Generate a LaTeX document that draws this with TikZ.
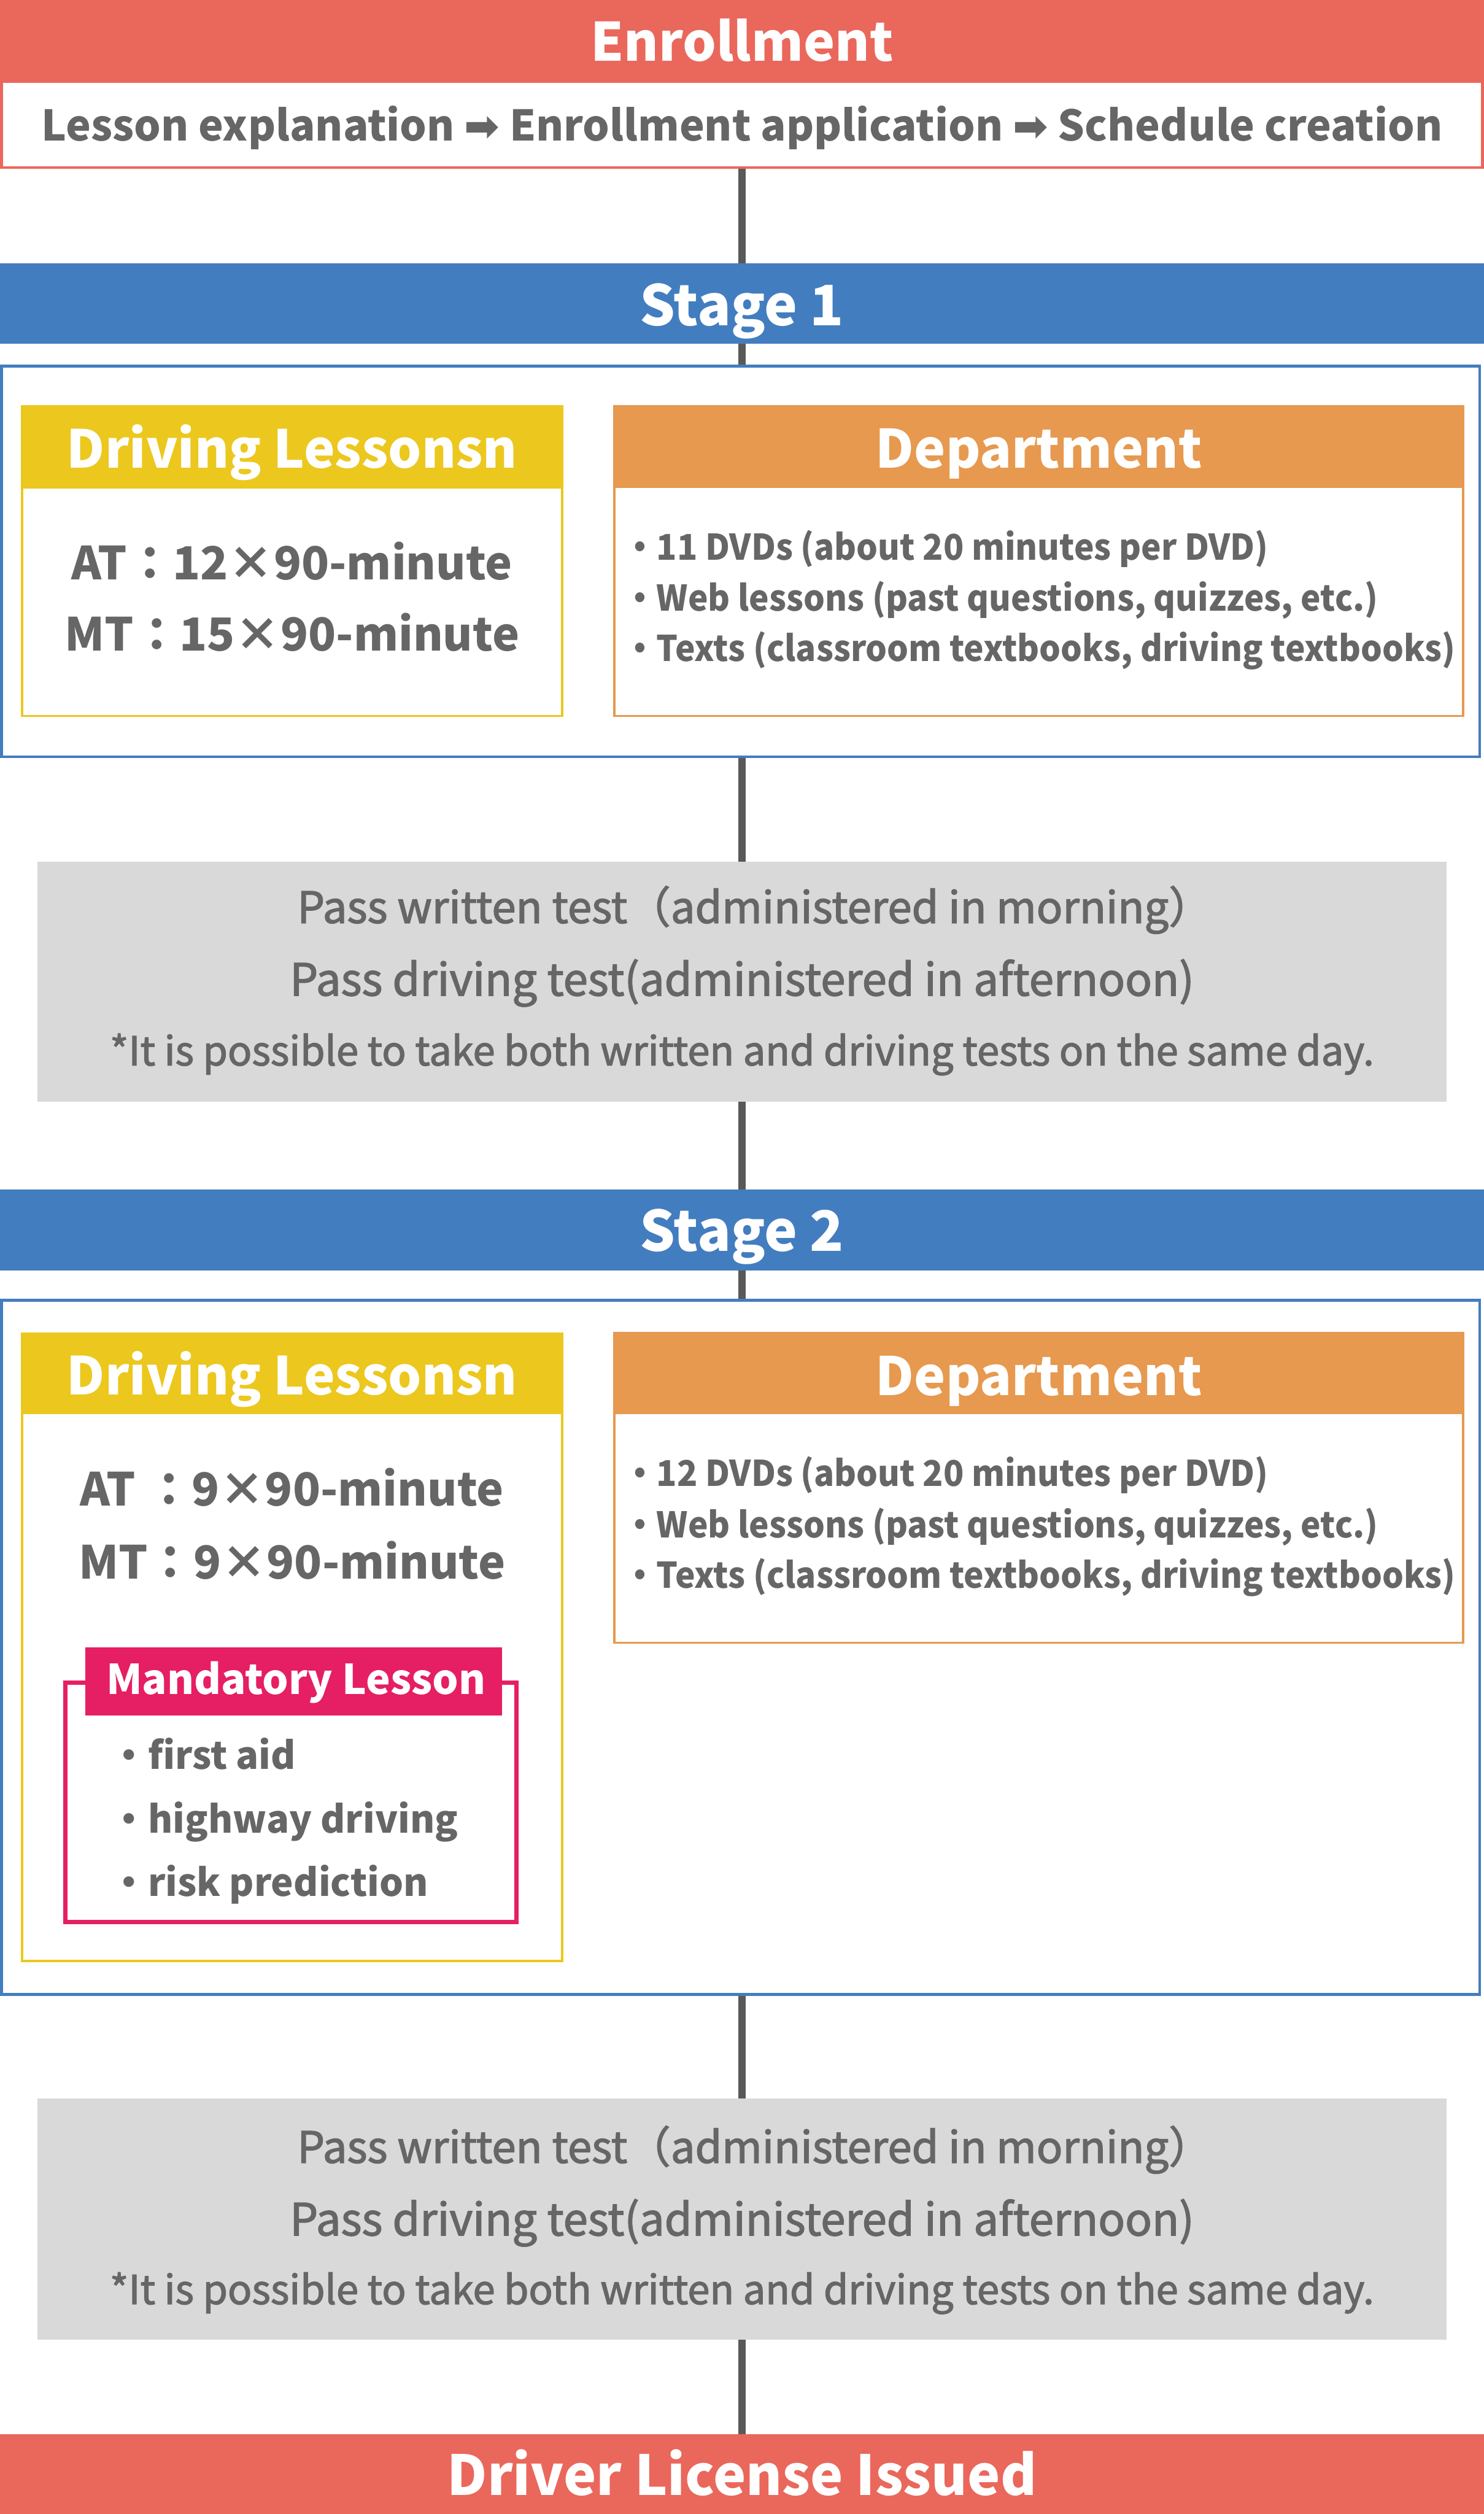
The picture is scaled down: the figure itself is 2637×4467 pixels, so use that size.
\documentclass[tikz,border=0pt]{standalone}
\usepackage{graphicx}
\usepackage{fontspec}
\setmainfont{Noto Sans CJK JP}
\newfontfamily\jpmed{Noto Sans CJK JP}[FakeBold=2]
\newfontfamily\dejavu{DejaVu Sans}
\newcommand\setfs[1]{\fontsize{#1}{#1}\selectfont}
\newcommand\narrowtxt[1]{\scalebox{0.95}[1]{#1}}
\definecolor{salmon}{HTML}{EA675B}
\definecolor{bluebar}{HTML}{427DBF}
\definecolor{yel}{HTML}{ECC71E}
\definecolor{ora}{HTML}{E6994F}
\definecolor{pink}{HTML}{E61E63}
\definecolor{grayfill}{HTML}{D9D9D9}
\definecolor{txtgray}{HTML}{666666}
\definecolor{linegray}{HTML}{595959}
\pgfdeclarelayer{bg}
\pgfsetlayers{bg,main}
\tikzset{
  box/.style={rectangle, inner sep=0, outer sep=0, anchor=north west},
  txt/.style={inner sep=0, outer sep=0, anchor=base, text=txtgray},
  wtxt/.style={inner sep=0, outer sep=0, anchor=base, text=white, font=\bfseries},
  conn/.style={draw=linegray, line width=13}
}
\begin{document}
\begin{tikzpicture}[x=1pt,y=-1pt]
\useasboundingbox (0,0) rectangle (2637,4467);
% Enrollment
\node[box, fill=salmon, minimum width=2637, minimum height=142] (enh) at (0,0) {};
\node[box, draw=salmon, line width=5, fill=white, minimum width=2632, minimum height=153] (enb) at (2.5,144.5) {};
\node[wtxt] (enht) at (1318.5,108) {\setfs{94}Enrollment};
\node[txt] (enbt) at (1318.5,250) {\setfs{75}\bfseries Lesson explanation {\dejavu ➡} Enrollment application {\dejavu ➡} Schedule creation};
% Stage 1
\node[box, fill=bluebar, minimum width=2637, minimum height=143] (st1) at (0,468) {};
\node[wtxt] (st1t) at (1318.5,578) {\setfs{99}Stage 1};
\node[box, draw=bluebar, line width=5, fill=white, minimum width=2627, minimum height=694] (box1) at (2.5,650.5) {};
\node[box, draw=yel, line width=4, minimum width=960, minimum height=550] (dl1) at (39,722) {};
\node[box, fill=yel, minimum width=964, minimum height=148] (dl1h) at (37,720) {};
\node[wtxt] (dl1t) at (519,832) {\setfs{93}Driving Lessonsn};
\node[txt] (at1) at (519,1030) {\setfs{81}\bfseries AT：12×90-minute};
\node[txt] (mt1) at (519,1157) {\setfs{81}\bfseries MT：15×90-minute};
\node[box, draw=ora, line width=4, minimum width=1508, minimum height=550] (dp1) at (1092,722) {};
\node[box, fill=ora, minimum width=1512, minimum height=147] (dp1h) at (1090,720) {};
\node[wtxt] (dp1t) at (1846,832) {\setfs{94}Department};
\node[txt, anchor=base west] (dp1a) at (1107,995) {\setfs{63}\bfseries\narrowtxt{・11 DVDs (about 20 minutes per DVD)}};
\node[txt, anchor=base west] (dp1b) at (1107,1086) {\setfs{63}\bfseries\narrowtxt{・Web lessons (past questions, quizzes, etc.)}};
\node[txt, anchor=base west] (dp1c) at (1107,1175) {\setfs{63}\bfseries\narrowtxt{・Texts (classroom textbooks, driving textbooks)}};
% Tests 1
\node[box, fill=grayfill, minimum width=2503, minimum height=427] (gray1) at (67,1531) {};
\node[txt] (g1a) at (1341,1640) {\jpmed\setfs{77}Pass written test（administered in morning）};
\node[txt] (g1b) at (1318.5,1769) {\jpmed\setfs{79}Pass driving test(administered in afternoon)};
\node[txt] (g1c) at (1318.5,1893) {\jpmed\setfs{71}*It is possible to take both written and driving tests on the same day.};
% Stage 2
\node[box, fill=bluebar, minimum width=2637, minimum height=143] (st2) at (0,2114) {};
\node[wtxt] (st2t) at (1318.5,2223) {\setfs{99}Stage 2};
\node[box, draw=bluebar, line width=5, fill=white, minimum width=2627, minimum height=1233] (box2) at (2.5,2310.5) {};
\node[box, draw=yel, line width=4, minimum width=960, minimum height=1114] (dl2) at (39,2370) {};
\node[box, fill=yel, minimum width=964, minimum height=145] (dl2h) at (37,2368) {};
\node[wtxt] (dl2t) at (519,2478) {\setfs{93}Driving Lessonsn};
\node[txt] (at2) at (519,2676) {\setfs{81}\bfseries AT ：9×90-minute};
\node[txt] (mt2) at (519,2805) {\setfs{81}\bfseries MT：9×90-minute};
\node[box, draw=pink, line width=8, minimum width=802, minimum height=425] (mand) at (116,2990) {};
\node[box, fill=pink, minimum width=740, minimum height=121] (mandh) at (152,2927) {};
\node[wtxt] (mandt) at (526,3011) {\setfs{73}Mandatory Lesson};
\node[txt, anchor=base west] (m1) at (196,3144) {\setfs{67}\bfseries ・first aid};
\node[txt, anchor=base west] (m2) at (196,3257) {\setfs{67}\bfseries ・highway driving};
\node[txt, anchor=base west] (m3) at (196,3369) {\setfs{67}\bfseries ・risk prediction};
\node[box, draw=ora, line width=4, minimum width=1508, minimum height=550] (dp2) at (1092,2369) {};
\node[box, fill=ora, minimum width=1512, minimum height=146] (dp2h) at (1090,2367) {};
\node[wtxt] (dp2t) at (1846,2479) {\setfs{94}Department};
\node[txt, anchor=base west] (dp2a) at (1107,2641) {\setfs{63}\bfseries\narrowtxt{・12 DVDs (about 20 minutes per DVD)}};
\node[txt, anchor=base west] (dp2b) at (1107,2732) {\setfs{63}\bfseries\narrowtxt{・Web lessons (past questions, quizzes, etc.)}};
\node[txt, anchor=base west] (dp2c) at (1107,2822) {\setfs{63}\bfseries\narrowtxt{・Texts (classroom textbooks, driving textbooks)}};
% Tests 2
\node[box, fill=grayfill, minimum width=2503, minimum height=428] (gray2) at (67,3729) {};
\node[txt] (g2a) at (1341,3843) {\jpmed\setfs{77}Pass written test（administered in morning）};
\node[txt] (g2b) at (1318.5,3972) {\jpmed\setfs{79}Pass driving test(administered in afternoon)};
\node[txt] (g2c) at (1318.5,4094) {\jpmed\setfs{71}*It is possible to take both written and driving tests on the same day.};
% License
\node[box, fill=salmon, minimum width=2637, minimum height=142] (lic) at (0,4325) {};
\node[wtxt] (lict) at (1318.5,4434) {\setfs{98}Driver License Issued};
% connectors
\begin{pgfonlayer}{bg}
\draw[conn] (enb.south) -- (st1.north);
\draw[conn] (st1.south) -- (st1.south |- box1.north);
\draw[conn] (gray1.north |- box1.south) -- (gray1.north);
\draw[conn] (gray1.south) -- (st2.north);
\draw[conn] (st2.south) -- (st2.south |- box2.north);
\draw[conn] (gray2.north |- box2.south) -- (gray2.north);
\draw[conn] (gray2.south) -- (lic.north);
\end{pgfonlayer}
\end{tikzpicture}
\end{document}
